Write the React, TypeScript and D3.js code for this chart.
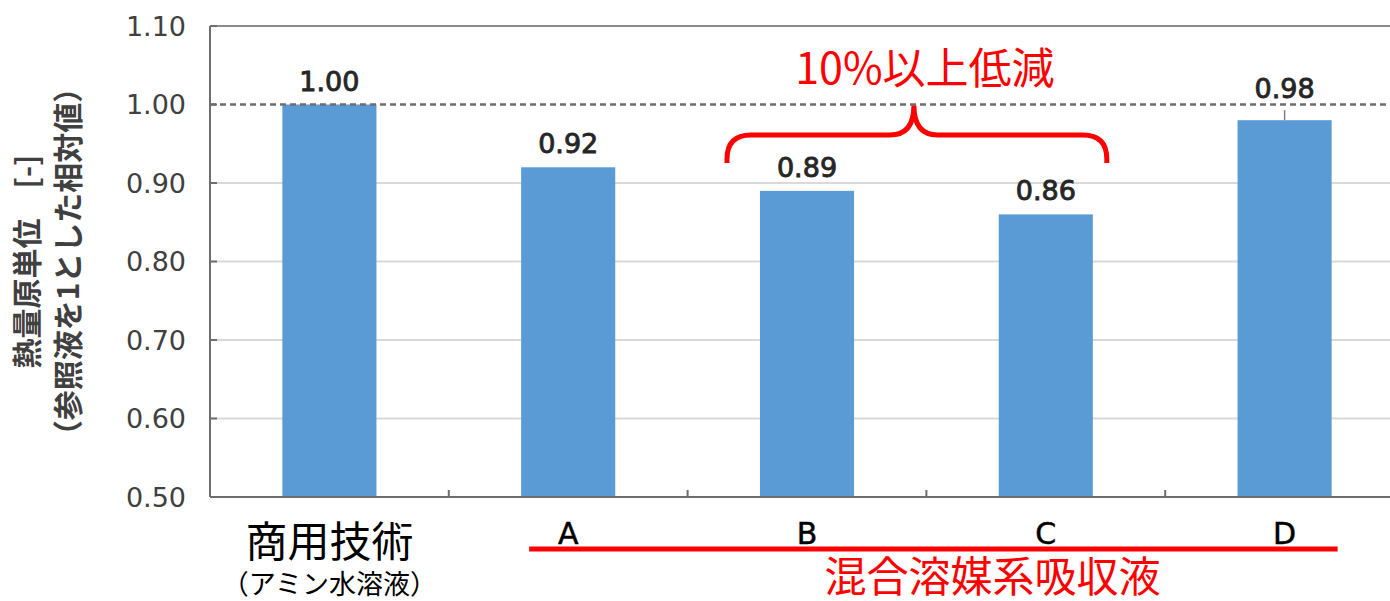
import React from "react";
import * as d3 from "d3";

// Heat-duty ratios relative to the commercial amine solvent
const categories = ["商用技術", "A", "B", "C", "D"];
const values = [1.0, 0.92, 0.89, 0.86, 0.98];
const valueLabels = ["1.00", "0.92", "0.89", "0.86", "0.98"];
const yTicks = [0.5, 0.6, 0.7, 0.8, 0.9, 1.0, 1.1];
const yTickLabels = ["0.50", "0.60", "0.70", "0.80", "0.90", "1.00", "1.10"];
const referenceValue = 1.0;
const bracedCategories = ["B", "C"];
const mixedCategories = ["A", "B", "C", "D"];

const W = 1390;
const H = 601;
const left = 210;
const top = 26;
const bottom = 497;
const bandW = 238.8;

const BAR = "#5b9bd5";
const RED = "#ff0000";
const TXT = "#262626";
const SANS = "'DejaVu Sans', 'Noto Sans', sans-serif";
const CJK = "'Noto Sans CJK JP', 'Noto Sans', sans-serif";

export default function App() {
  const x = d3
    .scaleBand<string>()
    .domain(categories)
    .range([left, left + bandW * categories.length])
    .paddingInner(0.606)
    .paddingOuter(0.303);
  const y = d3.scaleLinear().domain([0.5, 1.1]).range([bottom, top]);

  const cx = (c: string) => (x(c) as number) + x.bandwidth() / 2;
  const bandStart = (i: number) => left + i * bandW;
  const refY = y(referenceValue);

  // value label baseline: above the bar, lifted over the reference line when the bar sits just under it
  const labelY = (v: number) => {
    const b = y(v) - 14;
    return b > refY - 7 && b < refY + 30 ? refY - 7 : b;
  };

  // Brace spanning B and C, pointing up toward the reference line
  const bL = cx(bracedCategories[0]) - 80;
  const bR = cx(bracedCategories[1]) + 61;
  const bMid = (bL + bR) / 2 - 3;
  const bY = 135;
  const bEnd = 163;
  const bTip = refY + 1;
  const r = 24;
  const bracePath = [
    `M${bL},${bEnd}`,
    `L${bL},${bY + r}`,
    `Q${bL},${bY} ${bL + r},${bY}`,
    `L${bMid - r},${bY}`,
    `Q${bMid},${bY} ${bMid},${bTip}`,
    `Q${bMid},${bY} ${bMid + r},${bY}`,
    `L${bR - r},${bY}`,
    `Q${bR},${bY} ${bR},${bY + r}`,
    `L${bR},${bEnd}`,
  ].join(" ");

  const mixL = (x(mixedCategories[0]) as number) + 8;
  const mixR = (x(mixedCategories[mixedCategories.length - 1]) as number) + x.bandwidth() + 6;

  return (
    <svg width={W} height={H} style={{ display: "block", position: "absolute", left: 0, top: 0 }}>
      <rect width={W} height={H} fill="#fff" />

      {/* gridlines */}
      {yTicks
        .filter((t) => t !== 0.5 && t !== referenceValue && t !== 1.1)
        .map((t) => (
          <line key={t} x1={left} x2={W} y1={y(t)} y2={y(t)} stroke="#d9d9d9" strokeWidth={2} />
        ))}
      <line x1={left} x2={W} y1={y(1.1)} y2={y(1.1)} stroke="#8c8c8c" strokeWidth={2} />

      {/* bars */}
      {categories.map((c, i) => (
        <rect
          key={c}
          x={x(c)}
          y={y(values[i])}
          width={x.bandwidth()}
          height={bottom - y(values[i])}
          fill={BAR}
        />
      ))}

      {/* leader on D */}
      <line
        x1={cx("D")}
        x2={cx("D")}
        y1={y(values[4])}
        y2={y(values[4]) - 10}
        stroke="#7f7f7f"
        strokeWidth={1.5}
      />

      {/* reference line */}
      <line
        x1={left}
        x2={W}
        y1={refY}
        y2={refY}
        stroke="#6e6e6e"
        strokeWidth={2.5}
        strokeDasharray="6 4"
      />

      {/* axes */}
      <line x1={left} x2={left} y1={top} y2={bottom} stroke="#6e6e6e" strokeWidth={2} />
      <line x1={left} x2={W} y1={bottom} y2={bottom} stroke="#6e6e6e" strokeWidth={2} />
      {yTicks.map((t) => (
        <line key={t} x1={left} x2={left + 7} y1={y(t)} y2={y(t)} stroke="#6e6e6e" strokeWidth={2} />
      ))}
      {categories.slice(1).map((c, i) => (
        <line
          key={c}
          x1={bandStart(i + 1)}
          x2={bandStart(i + 1)}
          y1={bottom}
          y2={bottom - 7}
          stroke="#6e6e6e"
          strokeWidth={2}
        />
      ))}

      {/* y tick labels */}
      {yTicks.map((t, i) => (
        <text
          key={t}
          x={left - 24}
          y={y(t)}
          dy="0.36em"
          textAnchor="end"
          fontFamily={SANS}
          fontSize={27}
          fill="#404040"
        >
          {yTickLabels[i]}
        </text>
      ))}

      {/* y title */}
      <g transform={`translate(27,${(top + bottom) / 2}) rotate(-90)`}>
        <text textAnchor="middle" dy="0.36em" fontFamily={CJK} fontSize={30} fontWeight={700} fill="#404040">
          熱量原単位　[-]
        </text>
      </g>
      <g transform={`translate(68,${(top + bottom) / 2}) rotate(-90)`}>
        <text textAnchor="middle" dy="0.36em" fontFamily={CJK} fontSize={30} fontWeight={700} fill="#404040">
          （参照液を1とした相対値）
        </text>
      </g>

      {/* value labels */}
      {categories.map((c, i) => (
        <text
          key={c}
          x={cx(c)}
          y={labelY(values[i])}
          textAnchor="middle"
          fontFamily={SANS}
          fontSize={27}
          stroke={TXT}
          strokeWidth={0.9}
          fill={TXT}
        >
          {valueLabels[i]}
        </text>
      ))}

      {/* category labels */}
      <text x={cx(categories[0])} y={557} textAnchor="middle" fontFamily={CJK} fontSize={42} fill="#000">
        {categories[0]}
      </text>
      <text x={cx(categories[0])} y={594} textAnchor="middle" fontFamily={CJK} fontSize={27} fill="#000">
        （アミン水溶液）
      </text>
      {categories.slice(1).map((c) => (
        <text
          key={c}
          x={cx(c)}
          y={544}
          textAnchor="middle"
          fontFamily={SANS}
          fontSize={30}
          fill="#000"
          stroke="#000"
          strokeWidth={0.5}
        >
          {c}
        </text>
      ))}

      {/* mixed solvent group */}
      <line x1={mixL} x2={mixR} y1={549} y2={549} stroke={RED} strokeWidth={5} />
      <text x={(mixL + mixR) / 2 + 59} y={592} textAnchor="middle" fontFamily={CJK} fontSize={42} fill={RED}>
        混合溶媒系吸収液
      </text>

      {/* reduction annotation */}
      <path d={bracePath} fill="none" stroke={RED} strokeWidth={5} strokeLinecap="butt" />
      <text x={bMid + 11} y={84} textAnchor="middle" fontFamily={CJK} fontSize={43} fill={RED}>
        10%以上低減
      </text>
    </svg>
  );
}
